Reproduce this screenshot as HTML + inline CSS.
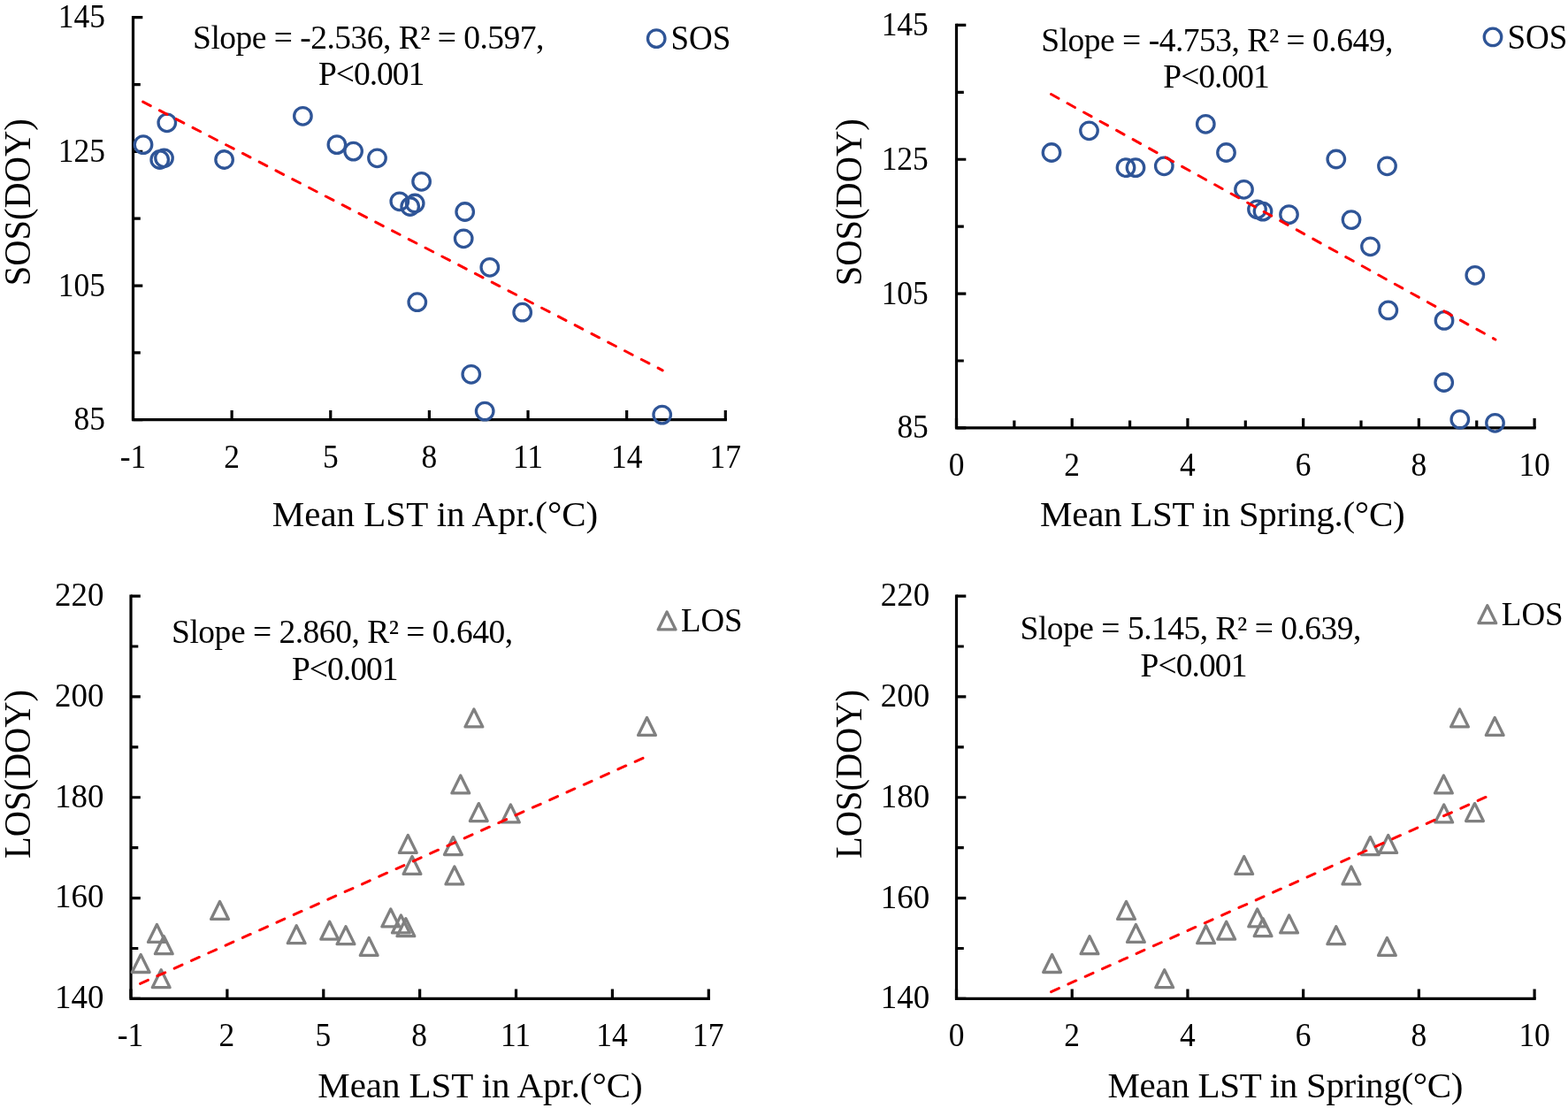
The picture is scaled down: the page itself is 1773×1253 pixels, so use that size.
<!DOCTYPE html>
<html lang="en">
<head>
<meta charset="utf-8">
<title>Relationship between mean LST and SOS / LOS</title>
<style>
html,body{margin:0;padding:0;background:#fff;}
body{width:1773px;height:1253px;overflow:hidden;}
svg{display:block;}
text{font-family:"Liberation Serif", serif;fill:#000;white-space:pre;}
.tk{font-size:37.5px;}
.tt{font-size:41px;}
.ty{font-size:42.5px;}
.lg{font-size:38.2px;}
.axis{stroke:#000;stroke-width:3.2;fill:none;stroke-linecap:square;stroke-linejoin:miter;}
.tick{stroke:#000;stroke-width:3.2;fill:none;}
.sos{stroke:#2f5597;stroke-width:3.3;fill:none;}
.los{stroke:#808080;stroke-width:3.3;fill:none;stroke-linejoin:round;}
.trend{stroke:#ff0000;stroke-width:3.0;stroke-dasharray:9.7 11.45;stroke-linecap:round;fill:none;}
</style>
</head>
<body>
<svg width="1773" height="1253" viewBox="0 0 1773 1253">
<rect width="1773" height="1253" fill="#fff"/>
<g id="panel1">
<path class="axis" d="M150.5 19.7V474.7H820.3"/>
<path class="tick" d="M150.5 19.7h10.8M150.5 95.53h8.3M150.5 171.37h10.8M150.5 247.2h8.3M150.5 323.03h10.8M150.5 398.87h8.3M150.5 474.7h10.8M150.5 474.7v-10.8M262.13 474.7v-10.8M373.77 474.7v-10.8M485.4 474.7v-10.8M597.03 474.7v-10.8M708.67 474.7v-10.8M820.3 474.7v-10.8"/>
<text class="tk" transform="translate(65.86 31) scale(0.945 1)">145</text>
<text class="tk" transform="translate(65.86 183) scale(0.945 1)">125</text>
<text class="tk" transform="translate(65.86 335) scale(0.945 1)">105</text>
<text class="tk" transform="translate(83.58 486) scale(0.945 1)">85</text>
<text class="tk" transform="translate(135.74 529) scale(0.945 1)">-1</text>
<text class="tk" transform="translate(253.27 529) scale(0.945 1)">2</text>
<text class="tk" transform="translate(364.91 529) scale(0.945 1)">5</text>
<text class="tk" transform="translate(476.54 529) scale(0.945 1)">8</text>
<text class="tk" transform="translate(579.97 529) scale(0.945 1)">11</text>
<text class="tk" transform="translate(690.95 529) scale(0.945 1)">14</text>
<text class="tk" transform="translate(802.58 529) scale(0.945 1)">17</text>
<text class="tt" style="letter-spacing:-0.01px" x="307.77" y="595">Mean LST in Apr.(°C)</text>
<text class="ty" transform="translate(33.6 323.23) rotate(-90) scale(0.9525 1)">SOS(DOY)</text>
<text class="tk" style="letter-spacing:-0.52px" x="218.07" y="55">Slope = -2.536, R² = 0.597,</text>
<text class="tk" style="letter-spacing:-1.03px" x="359.98" y="96">P&lt;0.001</text>
<g class="sos"><circle cx="162" cy="163.6" r="9.75"/><circle cx="188.8" cy="138.8" r="9.75"/><circle cx="180.7" cy="180.5" r="9.75"/><circle cx="185.5" cy="178.8" r="9.75"/><circle cx="253.6" cy="180.5" r="9.75"/><circle cx="342.4" cy="131.3" r="9.75"/><circle cx="380.9" cy="163.6" r="9.75"/><circle cx="399.6" cy="171.1" r="9.75"/><circle cx="426.5" cy="178.8" r="9.75"/><circle cx="476.6" cy="205.3" r="9.75"/><circle cx="451.8" cy="227.8" r="9.75"/><circle cx="463.7" cy="233.5" r="9.75"/><circle cx="469.2" cy="230" r="9.75"/><circle cx="525.7" cy="239.5" r="9.75"/><circle cx="524.2" cy="269.8" r="9.75"/><circle cx="553.8" cy="302.3" r="9.75"/><circle cx="471.8" cy="341.7" r="9.75"/><circle cx="590.7" cy="353.2" r="9.75"/><circle cx="532.8" cy="423.3" r="9.75"/><circle cx="548.2" cy="465.1" r="9.75"/><circle cx="748.7" cy="469.1" r="9.75"/></g>
<path class="trend" d="M161.63 115.19L749.17 418.81"/>
<g class="sos"><circle cx="742.2" cy="43.6" r="9.75"/></g>
<text class="lg" style="font-size:39.5px" transform="translate(758.4 56) scale(0.9369 1)">SOS</text>
</g>
<g id="panel2">
<path class="axis" d="M1081.5 28.4V483.9H1735.1"/>
<path class="tick" d="M1081.5 28.4h10.8M1081.5 104.32h8.3M1081.5 180.23h10.8M1081.5 256.15h8.3M1081.5 332.07h10.8M1081.5 407.98h8.3M1081.5 483.9h10.8M1081.5 483.9v-10.8M1146.86 483.9v-8.3M1212.22 483.9v-10.8M1277.58 483.9v-8.3M1342.94 483.9v-10.8M1408.3 483.9v-8.3M1473.66 483.9v-10.8M1539.02 483.9v-8.3M1604.38 483.9v-10.8M1669.74 483.9v-8.3M1735.1 483.9v-10.8"/>
<text class="tk" transform="translate(996.66 40) scale(0.945 1)">145</text>
<text class="tk" transform="translate(996.66 192) scale(0.945 1)">125</text>
<text class="tk" transform="translate(996.66 344) scale(0.945 1)">105</text>
<text class="tk" transform="translate(1014.38 495) scale(0.945 1)">85</text>
<text class="tk" transform="translate(1072.64 538) scale(0.945 1)">0</text>
<text class="tk" transform="translate(1203.36 538) scale(0.945 1)">2</text>
<text class="tk" transform="translate(1334.08 538) scale(0.945 1)">4</text>
<text class="tk" transform="translate(1464.8 538) scale(0.945 1)">6</text>
<text class="tk" transform="translate(1595.52 538) scale(0.945 1)">8</text>
<text class="tk" transform="translate(1717.38 538) scale(0.945 1)">10</text>
<text class="tt" style="letter-spacing:-0.28px" x="1176.07" y="595">Mean LST in Spring.(°C)</text>
<text class="ty" transform="translate(974 323.23) rotate(-90) scale(0.9525 1)">SOS(DOY)</text>
<text class="tk" style="letter-spacing:-0.49px" x="1177.27" y="58">Slope = -4.753, R² = 0.649,</text>
<text class="tk" style="letter-spacing:-0.98px" x="1315.28" y="99">P&lt;0.001</text>
<g class="sos"><circle cx="1189" cy="172.5" r="9.75"/><circle cx="1231.5" cy="147.8" r="9.75"/><circle cx="1273" cy="189.6" r="9.75"/><circle cx="1284" cy="189.6" r="9.75"/><circle cx="1316.3" cy="187.8" r="9.75"/><circle cx="1363.3" cy="140.3" r="9.75"/><circle cx="1386.5" cy="172.5" r="9.75"/><circle cx="1406.5" cy="214.3" r="9.75"/><circle cx="1421.5" cy="236.8" r="9.75"/><circle cx="1428" cy="239.1" r="9.75"/><circle cx="1457.5" cy="242.6" r="9.75"/><circle cx="1510.8" cy="180" r="9.75"/><circle cx="1568.5" cy="187.8" r="9.75"/><circle cx="1528" cy="248.6" r="9.75"/><circle cx="1549.5" cy="278.8" r="9.75"/><circle cx="1667.8" cy="311.3" r="9.75"/><circle cx="1569.8" cy="350.9" r="9.75"/><circle cx="1633" cy="362.4" r="9.75"/><circle cx="1632.7" cy="432.5" r="9.75"/><circle cx="1650.8" cy="474.3" r="9.75"/><circle cx="1690.5" cy="478.3" r="9.75"/></g>
<path class="trend" d="M1188.51 106.53L1690.89 383.97"/>
<g class="sos"><circle cx="1688" cy="41.9" r="9.75"/></g>
<text class="lg" style="font-size:39.5px" transform="translate(1704.4 55) scale(0.9384 1)">SOS</text>
</g>
<g id="panel3">
<path class="axis" d="M148 674.1V1129.4H801.3"/>
<path class="tick" d="M148 674.1h10.8M148 731.01h8.3M148 787.93h10.8M148 844.84h8.3M148 901.75h10.8M148 958.66h8.3M148 1015.58h10.8M148 1072.49h8.3M148 1129.4h10.8M148 1129.4v-10.8M256.88 1129.4v-10.8M365.77 1129.4v-10.8M474.65 1129.4v-10.8M583.53 1129.4v-10.8M692.42 1129.4v-10.8M801.3 1129.4v-10.8"/>
<text class="tk" transform="translate(61.98 685) scale(0.985 1)">220</text>
<text class="tk" transform="translate(61.98 799) scale(0.985 1)">200</text>
<text class="tk" transform="translate(61.98 913) scale(0.985 1)">180</text>
<text class="tk" transform="translate(61.98 1026) scale(0.985 1)">160</text>
<text class="tk" transform="translate(61.98 1140) scale(0.985 1)">140</text>
<text class="tk" transform="translate(132.74 1183) scale(0.945 1)">-1</text>
<text class="tk" transform="translate(247.52 1183) scale(0.945 1)">2</text>
<text class="tk" transform="translate(356.41 1183) scale(0.945 1)">5</text>
<text class="tk" transform="translate(465.29 1183) scale(0.945 1)">8</text>
<text class="tk" transform="translate(565.97 1183) scale(0.945 1)">11</text>
<text class="tk" transform="translate(674.2 1183) scale(0.945 1)">14</text>
<text class="tk" transform="translate(783.08 1183) scale(0.945 1)">17</text>
<text class="tt" style="letter-spacing:-0.07px" x="359.37" y="1241">Mean LST in Apr.(°C)</text>
<text class="ty" transform="translate(33.6 970.91) rotate(-90) scale(0.9513 1)">LOS(DOY)</text>
<text class="tk" style="letter-spacing:-0.49px" x="194.07" y="727">Slope = 2.860, R² = 0.640,</text>
<text class="tk" style="letter-spacing:-0.98px" x="329.98" y="769">P&lt;0.001</text>
<g class="los"><path d="M159.2 1079.5L169.1 1099.5H149.3Z"/><path d="M177.4 1045.4L187.3 1065.4H167.5Z"/><path d="M185.3 1058.7L195.2 1078.7H175.4Z"/><path d="M182.2 1096.7L192.1 1116.7H172.3Z"/><path d="M248.5 1019.4L258.4 1039.4H238.6Z"/><path d="M335.2 1046.7L345.1 1066.7H325.3Z"/><path d="M372.7 1042.2L382.6 1062.2H362.8Z"/><path d="M391 1047.7L400.9 1067.7H381.1Z"/><path d="M417.2 1060.4L427.1 1080.4H407.3Z"/><path d="M441.8 1027.9L451.7 1047.9H431.9Z"/><path d="M453.4 1034.9L463.3 1054.9H443.5Z"/><path d="M458.9 1038.7L468.8 1058.7H449Z"/><path d="M461.3 944.4L471.2 964.4H451.4Z"/><path d="M466 968.4L475.9 988.4H456.1Z"/><path d="M512.4 946.6L522.3 966.6H502.5Z"/><path d="M513.9 979.9L523.8 999.9H504Z"/><path d="M520.8 876.9L530.7 896.9H510.9Z"/><path d="M535.9 801.9L545.8 821.9H526Z"/><path d="M541.3 908.6L551.2 928.6H531.4Z"/><path d="M577.4 909.9L587.3 929.9H567.5Z"/><path d="M731.5 811.4L741.4 831.4H721.6Z"/></g>
<path class="trend" d="M158.57 1112.39L727.13 857.26"/>
<g class="los"><path d="M754.1 691.9L764 711.9H744.2Z"/></g>
<text class="lg" style="font-size:38.2px" transform="translate(769.89 714) scale(0.9656 1)">LOS</text>
</g>
<g id="panel4">
<path class="axis" d="M1081.5 674.1V1129.4H1735.1"/>
<path class="tick" d="M1081.5 674.1h10.8M1081.5 731.01h8.3M1081.5 787.93h10.8M1081.5 844.84h8.3M1081.5 901.75h10.8M1081.5 958.66h8.3M1081.5 1015.58h10.8M1081.5 1072.49h8.3M1081.5 1129.4h10.8M1081.5 1129.4v-10.8M1212.22 1129.4v-10.8M1342.94 1129.4v-10.8M1473.66 1129.4v-10.8M1604.38 1129.4v-10.8M1735.1 1129.4v-10.8"/>
<text class="tk" transform="translate(995.78 685) scale(0.985 1)">220</text>
<text class="tk" transform="translate(995.78 799) scale(0.985 1)">200</text>
<text class="tk" transform="translate(995.78 913) scale(0.985 1)">180</text>
<text class="tk" transform="translate(995.78 1027) scale(0.985 1)">160</text>
<text class="tk" transform="translate(995.78 1140) scale(0.985 1)">140</text>
<text class="tk" transform="translate(1072.64 1183) scale(0.945 1)">0</text>
<text class="tk" transform="translate(1203.36 1183) scale(0.945 1)">2</text>
<text class="tk" transform="translate(1334.08 1183) scale(0.945 1)">4</text>
<text class="tk" transform="translate(1464.8 1183) scale(0.945 1)">6</text>
<text class="tk" transform="translate(1595.52 1183) scale(0.945 1)">8</text>
<text class="tk" transform="translate(1717.38 1183) scale(0.945 1)">10</text>
<text class="tt" style="letter-spacing:-0.31px" x="1252.47" y="1241">Mean LST in Spring(°C)</text>
<text class="ty" transform="translate(974 970.91) rotate(-90) scale(0.9513 1)">LOS(DOY)</text>
<text class="tk" style="letter-spacing:-0.5px" x="1153.57" y="723">Slope = 5.145, R² = 0.639,</text>
<text class="tk" style="letter-spacing:-0.9px" x="1289.47" y="765">P&lt;0.001</text>
<g class="los"><path d="M1189.6 1079.5L1199.5 1099.5H1179.7Z"/><path d="M1232 1058.7L1241.9 1078.7H1222.1Z"/><path d="M1273.5 1019.4L1283.4 1039.4H1263.6Z"/><path d="M1284.4 1045.4L1294.3 1065.4H1274.5Z"/><path d="M1316.7 1096.7L1326.6 1116.7H1306.8Z"/><path d="M1363.6 1046.7L1373.5 1066.7H1353.7Z"/><path d="M1386.7 1042.2L1396.6 1062.2H1376.8Z"/><path d="M1406.7 968.4L1416.6 988.4H1396.8Z"/><path d="M1421.7 1027.9L1431.6 1047.9H1411.8Z"/><path d="M1428.1 1038.7L1438 1058.7H1418.2Z"/><path d="M1457.6 1034.9L1467.5 1054.9H1447.7Z"/><path d="M1510.8 1047.7L1520.7 1067.7H1500.9Z"/><path d="M1568.4 1060.4L1578.3 1080.4H1558.5Z"/><path d="M1527.9 979.9L1537.8 999.9H1518Z"/><path d="M1549.4 946.6L1559.3 966.6H1539.5Z"/><path d="M1569.7 944.4L1579.6 964.4H1559.8Z"/><path d="M1632.4 876.9L1642.3 896.9H1622.5Z"/><path d="M1632.7 909.9L1642.6 929.9H1622.8Z"/><path d="M1667.5 908.6L1677.4 928.6H1657.6Z"/><path d="M1650.5 801.9L1660.4 821.9H1640.6Z"/><path d="M1690.2 811.4L1700.1 831.4H1680.3Z"/></g>
<path class="trend" d="M1188.57 1121.59L1680.13 901.41"/>
<g class="los"><path d="M1681.8 684.7L1691.7 704.7H1671.9Z"/></g>
<text class="lg" style="font-size:38.2px" transform="translate(1697.79 707) scale(0.9685 1)">LOS</text>
</g>
</svg>
</body>
</html>
